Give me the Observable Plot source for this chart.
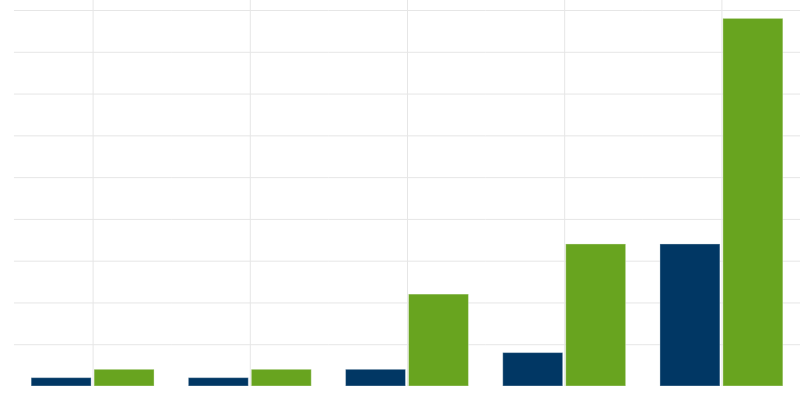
<!DOCTYPE html>
<html>
<head>
<meta charset="utf-8">
<script src="https://cdn.jsdelivr.net/npm/d3@7"></script>
<script src="https://cdn.jsdelivr.net/npm/@observablehq/plot@0.6"></script>
<style>
  html, body { margin: 0; padding: 0; background: #fff; }
  #chart { width: 800px; height: 400px; }
</style>
</head>
<body>
<div id="chart"></div>
<script>
const categories = ["1", "2", "3", "4", "5"];
const seriesNames = ["Series 1", "Series 2"];
const series1 = [1, 1, 2, 4, 17];
const series2 = [2, 2, 11, 17, 44];
const yTicks = [5, 10, 15, 20, 25, 30, 35, 40, 45];
const colors = ["#013764", "#68a41f"];

const data = [];
categories.forEach((c, i) => {
  data.push({category: c, series: seriesNames[0], value: series1[i]});
  data.push({category: c, series: seriesNames[1], value: series2[i]});
});

const chart = Plot.plot({
  width: 800,
  height: 400,
  marginTop: 0,
  marginRight: 0,
  marginBottom: 14,
  marginLeft: 14,
  fx: {domain: categories, paddingInner: 0.18, paddingOuter: 0.09, round: false, axis: null},
  x: {domain: seriesNames, padding: 0.0476, round: false, axis: null},
  y: {domain: [0, 46.2], axis: null},
  color: {domain: seriesNames, range: colors},
  marks: [
    Plot.ruleY(yTicks, {stroke: "#e6e6e6", strokeWidth: 1, insetLeft: -14.2, insetRight: -14.2}),
    Plot.gridFx({stroke: "#e6e6e6", strokeOpacity: 1, strokeWidth: 1}),
    Plot.barY(data, {
      fx: "category",
      x: "series",
      y: "value",
      fill: "series",
      stroke: "white",
      strokeOpacity: 0.35,
      strokeWidth: 1
    })
  ]
});
document.getElementById("chart").appendChild(chart);
</script>
</body>
</html>
